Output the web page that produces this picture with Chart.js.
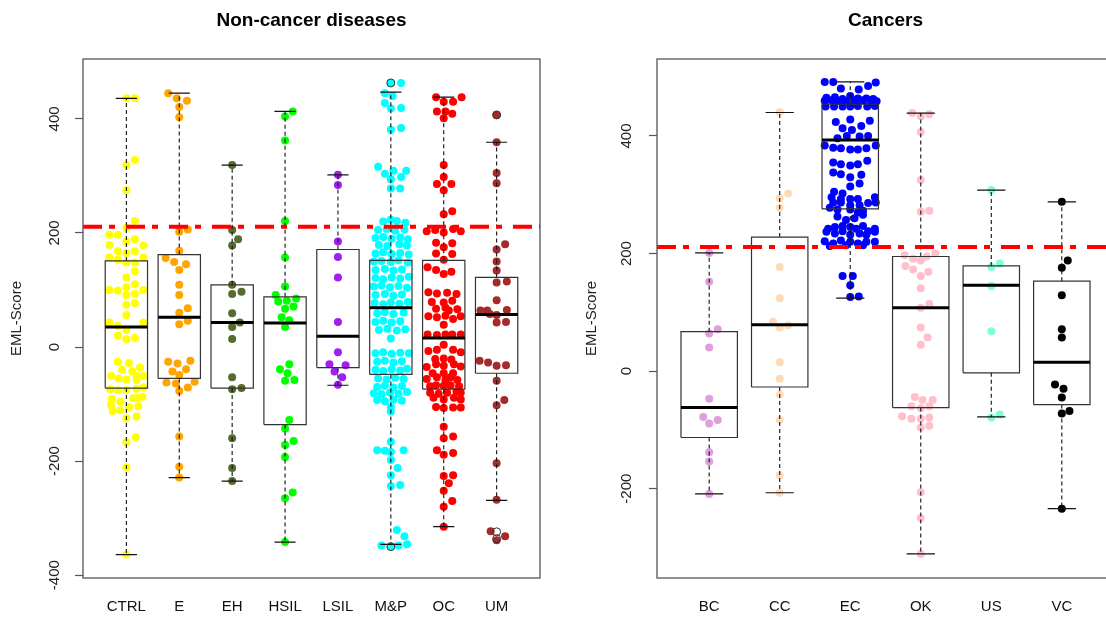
<!DOCTYPE html>
<html><head><meta charset="utf-8">
<script src="https://cdn.jsdelivr.net/npm/chart.js@4"></script>
<style>
html,body{margin:0;padding:0;background:#fff;overflow:hidden;width:1106px;height:617px}
#c1{position:absolute;left:0;top:0}
#c2{position:absolute;left:575px;top:0}
</style></head>
<body>
<canvas id="c1" width="575" height="617"></canvas>
<canvas id="c2" width="560" height="617"></canvas>
<script>
const FONT = "'Liberation Sans', Arial, sans-serif";
const threshold = 211;

// ---------- Left panel: Non-cancer diseases ----------
const leftCats = ['CTRL','E','EH','HSIL','LSIL','M&P','OC','UM'];
const leftColors = ['#FFFF00','#FFA500','#556B2F','#00FF00','#A020F0','#00FFFF','#FF0000','#A52A2A'];
const leftQ1  = [-72, -55, -72, -136, -36, -48, -74, -46];
const leftMed = [35, 52, 43, 42, 19, 69, 16, 57];
const leftQ3  = [151, 162, 109, 88, 171, 152, 152, 122];
const leftLo  = [-364, -229, -235, -342, -67, -346, -315, -269];
const leftHi  = [436, 445, 319, 413, 302, 447, 438, 359];
const leftOutliers = [[6,463],[6,-350],[8,407],[8,-324],[8,-336]];
const leftYTicks = [-400,-200,0,200,400];

// points: [jitter slot, value]
const ptsCTRL = [[0,436],[1,436],[1,328],[0,319],[0,275],[1,221],[0,209],[-2,197],[-1,197],[0,185],[1,189],[-2,179],[2,178],[-1,168],[1,168],[0,165],[-2,157],[-1,153],[0,148],[1,148],[2,157],[1,133],[0,122],[1,110],[0,105],[-2,100],[-1,99],[2,100],[1,93],[0,91],[1,77],[0,74],[0,56],[-2,43],[-1,37],[2,43],[0,30],[-1,20],[0,14],[1,16],
 [-1,-26],[0.3,-28],[1.6,-36],[-0.5,-40],[-1.8,-51],[-0.9,-55],[0,-57],[0.7,-43],[1.2,-51],[2,-51],[1.2,-58],[-1.9,-74],[-1,-76],[0,-76],[1.2,-73],[2,-71],[-1.7,-91],[-0.7,-96],[0.8,-90],[1.3,-90],[1.9,-87],[-1.8,-102],[-1.6,-112],[-0.7,-111],[0.3,-105],[1.4,-104],[0,-125],[1.2,-122],[0,-167],[1.1,-158],[0,-211],[0,-364]];
const ptsE = [[-1.3,445],[-0.3,436],[0.9,432],[0,421],[0,403],[0,202],[1,206],[0,169],[-1.6,156],[-0.6,149],[0,135],[0.8,145],[0,109],[0,91],[0,60],[1,68],[0,40],[1,46],[-1.3,-26],[-0.2,-29],[1.3,-24],[-0.8,-43],[0.8,-39],[0,-49],[-1.5,-62],[-0.4,-64],[1.8,-61],[1,-71],[0,-77],[0,-157],[0,-210],[0,-229]];
const ptsEH = [[0,319],[0,205],[0.7,189],[0,178],[0,109],[1.1,97],[0,93],[0,59],[0.9,43],[0,35],[0,14],[0,-53],[0,-74],[1.1,-72],[0,-160],[0,-212],[0,-235]];
const ptsHSIL = [[0.9,413],[0,404],[0,362],[0,221],[0,157],[0,106],[-1.1,91],[1.3,85],[-0.8,80],[0.2,81],[1,71],[0,67],[-0.4,52],[0.5,47],[0,35],[-0.6,-39],[0.5,-30],[0.3,-46],[0,-59],[1.1,-58],[0.5,-128],[0,-143],[0,-172],[1,-165],[0,-193],[0,-265],[0.9,-255],[0,-342]];
const ptsLSIL = [[0,302],[0,284],[0,185],[0,158],[0,122],[0,44],[0,-9],[-1,-30],[0.9,-32],[-0.4,-43],[0.5,-53],[0,-66]];
const ptsMP = [[0,463],[1.2,463],[-0.7,445],[0.2,440],[-0.7,428],[0,418],[1.2,419],[0,381],[1.2,384],[-1.5,316],[-0.7,304],[0.3,309],[1.8,309],[0,294],[1.2,298],[0,278],[1.1,278],
 [-0.9,220],[0,223],[0.7,221],[1.7,218],
 [-1.5,205],[-0.5,207],[0.5,204],[1.6,206],
 [-1.8,191],[-0.9,193],[0.1,190],[1.1,192],[2,189],
 [-1.4,179],[-0.4,177],[1,180],[1.9,178],
 [-1.8,164],[-0.9,166],[0.1,163],[1.1,165],[2.1,162],
 [-2,150],[-1.1,151],[0,149],[0.9,152],[2,148],
 [-1.8,135],[-0.7,137],[0.3,134],[1.3,136],
 [-1.8,121],[-0.9,119],[0.1,122],[1.1,120],[2.1,123],
 [-2,106],[-1.1,108],[-0.1,105],[0.9,107],[1.9,104],
 [-1.8,91],[-0.7,93],[0.3,90],[1.3,92],
 [-1.9,77],[-0.9,75],[0,78],[1,76],[2,79],
 [-1.6,59],[-0.7,61],[0.3,58],[1.5,60],
 [-1.8,44],[-0.9,46],[0.1,43],[1.1,45],
 [-1.4,30],[-0.4,32],[0.7,29],[1.7,31],
 [0,15],
 [-1.8,-11],[-0.9,-9],[0.1,-12],[1.1,-10],[2.1,-11],
 [-1.6,-26],[-0.7,-24],[0.3,-27],[1.3,-25],
 [-1.8,-40],[-0.9,-42],[0.1,-39],[1.1,-41],[1.9,-38],
 [-1.5,-55],[-0.5,-57],[0.5,-54],[1.5,-56],
 [-1.6,-70],[-0.7,-68],[0.3,-71],[1.3,-69],
 [-2,-81],[-1.1,-83],[-0.1,-80],[0.9,-82],[1.9,-79],
 [-1.6,-93],[-0.7,-95],[0.3,-92],[1.3,-94],
 [0,-105],[0,-113],
 [0,-166],[-1.6,-181],[-0.7,-182],[0,-184],[1.5,-181],[0,-198],[0.8,-212],[0,-225],[1.1,-242],[0,-244],[0.7,-321],[1.6,-332],[0,-350],[-1.1,-348],[0.9,-348],[1.9,-346]];
const ptsOC = [[-0.9,438],[0,430],[1.1,430],[2.1,438],[-0.8,413],[0.2,413],[1,409],[0,401],[0,319],[0,298],[-0.8,286],[0.9,286],[0,275],[0,233],[1,238],
 [-2,203],[-1,205],[0,201],[1.1,207],[2,203],[-0.9,183],[1,182],[0,175],[-0.9,164],[1,163],[0,153],[-1.9,140],[-0.9,135],[0.9,132],[0,128],
 [-1.8,96],[-0.8,94],[0.4,95],[1.5,93],
 [-1.4,79],[0,78],[1,81],
 [-0.9,67],[0.2,69],[0.6,64],[1.6,66],
 [-1.8,54],[-0.8,52],[0.2,55],[1.1,49],[2,54],
 [0,39],
 [-1.9,22],[-0.8,21],[0.2,22],[1,22],[2,22],
 [0,4],
 [-1.8,-7],[-0.8,-5],[1.1,-5],[2,-9],
 [-1,-21],[0,-20],[0.9,-22],
 [-2,-35],[-0.9,-30],[0,-33],[1.2,-30],[2,-34],
 [-1.3,-46],[0,-46],[1.1,-46],
 [-2,-56],[-0.8,-53],[0.2,-58],[0.8,-53],[1.6,-58],
 [-1.6,-69],[-0.9,-67],[0,-68],[0.8,-67],[1.8,-69],
 [-1.6,-80],[-0.6,-82],[0.4,-80],[1.5,-78],[2,-80],
 [-1.2,-89],[0,-92],[1.2,-89],[2,-92],
 [-0.9,-105],[0,-107],[1.1,-106],[2,-106],
 [0,-140],[1.1,-157],[0,-160],[-0.8,-181],[0,-189],[1.1,-186],[0,-226],[1.1,-225],[0.6,-239],[0,-252],[1,-270],[0,-280],[0,-315]];
const ptsUM = [[0,407],[0,359],[0,305],[0,287],[0,171],[1,180],[0,150],[0,134],[0,113],[1.2,115],[0,82],[-1.9,64],[-1.1,64],[0,56],[1.2,65],[-0.8,58],[0,43],[1.1,44],[-2,-24],[-1,-27],[0,-33],[1.1,-32],[0,-59],[0,-102],[0.9,-93],[0,-204],[0,-268],[-0.7,-323],[1,-332],[0,-339]];
const leftPoints = [ptsCTRL, ptsE, ptsEH, ptsHSIL, ptsLSIL, ptsMP, ptsOC, ptsUM];

// ---------- Right panel: Cancers ----------
const rightCats = ['BC','CC','EC','OK','US','VC'];
const rightColors = ['#DDA0DD','#FFDAB9','#0000FF','#FFC0CB','#7FFFD4','#000000'];
const rightQ1  = [-113, -27, 276, -62, -3, -57];
const rightMed = [-62, 79, 393, 108, 146, 15];
const rightQ3  = [67, 228, 454, 195, 179, 153];
const rightLo  = [-209, -207, 124, -311, -78, -234];
const rightHi  = [201, 440, 492, 439, 308, 288];
const rightOutliers = [];
const rightYTicks = [-200,0,200,400];

const ptsBC = [[0,201],[0,152],[0,64],[1,71],[0,40],[0,-47],[-0.7,-78],[0,-89],[1,-83],[0,-138],[0,-154],[0,-209]];
const ptsCC = [[0,441],[0,278],[0,294],[1,302],[0,177],[0,124],[-0.8,84],[0,74],[1,78],[0,15],[0,-13],[0,-40],[0,-83],[0,-177],[0,-207]];
const ptsEC = [[-3,492],[-2,492],[-1.1,481],[1,479],[2.1,485],[3,491],
 [-2.8,465],[-1.8,466],[-0.9,463],[0,468],[0.9,464],[1.9,464],[2.7,463],
 [-3,460],[-2.2,461],[-1.5,460],[-0.5,459],[0.5,461],[1.5,461],[2.5,460],[3.1,459],
 [-2.9,450],[-1.9,450],[-0.9,450],[0,450],[0.9,451],[2,450],[2.9,451],
 [-1.7,424],[0,428],[2.3,426],[-0.9,413],[0.2,410],[1.3,417],[-0.4,400],[-1.5,396],[1.1,399],[2.1,400],
 [-3,384],[-2,380],[-1.1,379],[0,377],[0.9,377],[1.9,379],[3,384],
 [-2,355],[-1.1,352],[0,350],[0.9,352],[2,358],
 [-2,338],[-1.1,335],[0,330],[1.3,334],
 [0,314],[1.1,319],[-1.9,305],[-0.9,302],
 [-2.2,296],[-1.1,293],[0,293],[0.9,293],[2.9,296],
 [-2,287],[-1.1,287],[0,282],[1.1,282],[2.1,286],[3,287],
 [-2.4,278],[-1.5,275],[0,275],[0.9,270],[1.5,273],
 [-1.5,263],[-0.5,257],[0.5,260],[1.5,266],
 [-2.6,242],[-1.8,245],[-0.9,247],[0,245],[0.7,242],[1.5,247],[2.1,238],[2.9,242],
 [-2.8,237],[-1.8,234],[-0.9,238],[0,232],[1.1,234],[1.9,232],[2.9,237],
 [-3,221],[-2,217],[-1.1,222],[0,220],[0.9,217],[1.9,220],[2.9,220],
 [-2.4,213],[-0.5,214],[1.5,214],
 [-0.9,162],[0.3,162],[0,146],[0,126],[1,127]];
const ptsOK = [[-1,439],[0,433],[1,437],[0,407],[0,325],[0,271],[1,273],[-1.9,197],[-0.9,191],[0,188],[0.7,195],[1.7,200],[-1.8,179],[-0.9,173],[0,162],[0.9,169],[0,141],[0,108],[1,114],[0,74],[0.8,57],[0,45],[-0.7,-44],[0.2,-49],[1.4,-49],[-1.1,-60],[0,-63],[1,-60],[-2.2,-77],[-1.1,-81],[0,-81],[1,-79],[0,-96],[1,-93],[0,-206],[0,-250],[0,-311]];
const ptsUS = [[0,308],[0,177],[1,183],[0,145],[0,68],[0,-79],[1,-74]];
const ptsVC = [[0,288],[0.7,188],[0,176],[0,129],[0,71],[0,57],[-0.8,-23],[0.2,-30],[0,-45],[0,-72],[0.9,-68],[0,-234]];
const rightPoints = [ptsBC, ptsCC, ptsEC, ptsOK, ptsUS, ptsVC];

function makeChart(id, P) {
  const n = P.cats.length;
  const med = [], box = [], wh = [], cap = [];
  for (let i = 0; i < n; i++) {
    const c = i + 1;
    med.push({x:c-0.4,y:P.med[i]},{x:c+0.4,y:P.med[i]},{x:c,y:null});
    box.push({x:c-0.4,y:P.q1[i]},{x:c+0.4,y:P.q1[i]},{x:c+0.4,y:P.q3[i]},{x:c-0.4,y:P.q3[i]},{x:c-0.4,y:P.q1[i]},{x:c,y:null});
    wh.push({x:c,y:P.q3[i]},{x:c,y:P.hi[i]},{x:c,y:null},{x:c,y:P.q1[i]},{x:c,y:P.lo[i]},{x:c,y:null});
    cap.push({x:c-0.2,y:P.hi[i]},{x:c+0.2,y:P.hi[i]},{x:c,y:null},{x:c-0.2,y:P.lo[i]},{x:c+0.2,y:P.lo[i]},{x:c,y:null});
  }
  const lineBase = {type:'line', pointRadius:0, spanGaps:false, tension:0, fill:false};
  const ds = [
    Object.assign({}, lineBase, {data:[{x:P.xmin,y:threshold},{x:P.xmax,y:threshold}], borderColor:'#FF0000', borderWidth:4, borderDash:[19,7,6,11], borderCapStyle:'butt', order:0}),
    Object.assign({}, lineBase, {data:med, borderColor:'#000', borderWidth:3, borderCapStyle:'butt', order:1}),
    Object.assign({}, lineBase, {data:box, borderColor:'#333', borderWidth:1.2, borderJoinStyle:'miter', order:2}),
    Object.assign({}, lineBase, {data:wh, borderColor:'#111', borderWidth:1.1, borderDash:[4,3], order:3}),
    Object.assign({}, lineBase, {data:cap, borderColor:'#111', borderWidth:1.2, order:3}),
    {type:'line', showLine:false, data:P.outliers.map(o=>({x:o[0],y:o[1]})), pointRadius:4, pointBackgroundColor:'rgba(0,0,0,0)', pointBorderColor:'#333', pointBorderWidth:1, order:1}
  ];
  P.points.forEach((pts, i) => {
    ds.push({type:'line', showLine:false, data:pts.map(p=>({x:i+1+p[0]*P.slot, y:p[1]})),
      pointRadius:4, pointBackgroundColor:P.colors[i], pointBorderColor:P.colors[i], pointBorderWidth:0, order:10});
  });

  const decor = {
    id:'decor',
    afterDraw(chart) {
      const ctx = chart.ctx, a = chart.chartArea, ys = chart.scales.y;
      ctx.save();
      ctx.strokeStyle = '#555'; ctx.lineWidth = 1.3;
      ctx.strokeRect(a.left, a.top, a.right - a.left, a.bottom - a.top);
      ctx.fillStyle = '#222';
      ctx.font = '15px ' + FONT;
      ctx.textAlign = 'center'; ctx.textBaseline = 'middle';
      P.yticks.forEach(v => {
        const y = ys.getPixelForValue(v);
        ctx.save();
        ctx.translate(a.left - P.labOff, y);
        ctx.rotate(-Math.PI/2);
        ctx.fillText(String(v), 0, 0);
        ctx.restore();
      });
      ctx.restore();
    }
  };

  return new Chart(document.getElementById(id), {
    type:'line',
    data:{datasets:ds},
    plugins:[decor],
    options:{
      responsive:false, animation:false, events:[],
      layout:{padding:{left:0, right:P.padRight, top:0, bottom:0}},
      plugins:{
        legend:{display:false}, tooltip:{enabled:false},
        title:{display:true, text:P.title, fullSize:false, color:'#000', font:{family:FONT, size:19, weight:'bold'}, padding:{top:9, bottom:27.2}}
      },
      scales:{
        x:{type:'linear', min:P.xmin, max:P.xmax,
           grid:{display:false, drawTicks:false}, border:{display:false},
           afterBuildTicks:s=>{ s.ticks = P.cats.map((c,i)=>({value:i+1})); },
           ticks:{autoSkip:false, maxRotation:0, minRotation:0, padding:20, color:'#111', font:{family:FONT, size:15}, callback:(v)=>P.cats[Math.round(v)-1]},
           afterFit:s=>{ s.height = 39; }},
        y:{type:'linear', min:P.ymin, max:P.ymax,
           afterBuildTicks:s=>{ s.ticks = P.yticks.map(v=>({value:v})); },
           grid:{drawOnChartArea:false, drawTicks:true, tickLength:8, color:'#555', tickColor:'#555', tickWidth:1.2},
           border:{display:false},
           ticks:{display:false},
           title:{display:true, text:'EML-Score', color:'#222', font:{family:FONT, size:15}, padding:{top:8, bottom:0}},
           afterFit:s=>{ s.width = P.yw; }}
      }
    }
  });
}

makeChart('c1', {title:'Non-cancer diseases', cats:leftCats, colors:leftColors, q1:leftQ1, med:leftMed, q3:leftQ3, lo:leftLo, hi:leftHi,
  outliers:leftOutliers, points:leftPoints, yticks:leftYTicks, xmin:0.18, xmax:8.82, ymin:-405, ymax:505, slot:0.161, padRight:35, yw:83, labOff:28});
makeChart('c2', {title:'Cancers', cats:rightCats, colors:rightColors, q1:rightQ1, med:rightMed, q3:rightQ3, lo:rightLo, hi:rightHi,
  outliers:rightOutliers, points:rightPoints, yticks:rightYTicks, xmin:0.26, xmax:6.74, ymin:-352, ymax:531, slot:0.1206, padRight:21, yw:82, labOff:30});
</script>
</body></html>
